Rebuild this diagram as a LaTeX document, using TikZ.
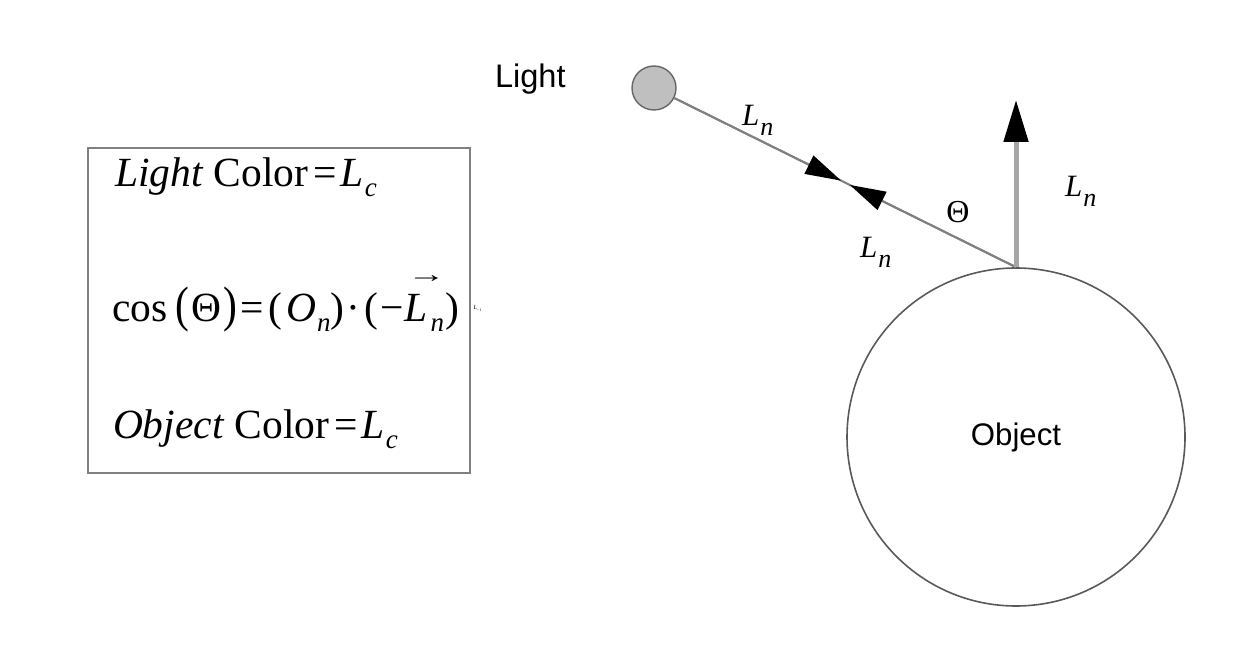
\documentclass[tikz,border=0pt]{standalone}
\usepackage{fontspec}
\setmainfont{Liberation Serif}
\newfontfamily\sansf{Liberation Sans}
\usetikzlibrary{arrows.meta,calc}
\newcommand\fsz[1]{\fontsize{#1}{#1}\selectfont}
\newcommand\tallp[1]{\scalebox{1}[1.2]{#1}}
\newcommand\mysub[1]{\hspace{0.5pt}\raisebox{-5pt}{\fsz{13.5}\textit{#1}}}
\newcommand\arrowL{\makebox[0pt][l]{\raisebox{19.5pt}{\hspace{1.5pt}\fsz{12}\scalebox{1.6}[1]{→}}}\textit{L}}
\tikzset{
  txt/.style={inner sep=0pt, outer sep=0pt},
  formula/.style={txt, anchor=base west, font=\fsz{20.75}},
  lab/.style={txt, anchor=base west, font=\fsz{15.5}},
  sanslab/.style={txt, font=\sansf\fsz{16.3}},
  ray/.style={draw=black!50, line width=1pt},
  normalray/.style={draw=black!35, line width=2.5pt},
  bigtip/.style={-{Triangle[length=18pt,width=10pt,black]}},
}
\begin{document}
\begin{tikzpicture}[x=0.5pt,y=-0.5pt]
\useasboundingbox (0,0) rectangle (1236,646);
% formula frame
\node[draw=black!50, line width=1.4pt, minimum width=191pt, minimum height=162.5pt, inner sep=0pt] (frame) at (279,310.5) {};
\node[formula] (f1) at (115,187) {\textit{Light} Color\hspace{2.5pt}=\hspace{2pt}\textit{L}\mysub{c}};
\node[formula] (f2) at (112,322) {cos\hspace{4pt}\tallp{(}\hspace{1pt}Θ\hspace{1pt}\tallp{)}\hspace{2pt}=\hspace{2pt}(\hspace{2pt}\textit{O}\mysub{n})\hspace{1pt}·\hspace{2pt}(\hspace{1pt}−\hspace{0.5pt}\arrowL\hspace{1pt}\mysub{n}\hspace{0.5pt})};
\node[formula] (f3) at (113,438) {\textit{Object} Color\hspace{2.5pt}=\hspace{2pt}\textit{L}\mysub{c}};
\node[txt, font=\fsz{3}] (tiny) at (478,309) {\textit{L}\textsubscript{−1}};
% light source and object
\node[circle, draw=black!60, fill=black!25, line width=0.7pt, minimum size=22pt, inner sep=0pt] (light) at (654,88) {};
\node[sanslab, anchor=base west] (lightlab) at (495,88) {Light};
\node[circle, draw=black!65, line width=0.8pt, minimum size=169pt, inner sep=0pt, font=\sansf\fsz{15.6}] (obj) at (1016,437) {Object};
\coordinate (top) at (1016,100);
% rays
\draw[ray] (light) -- (obj.north);
\coordinate (t1) at ($(light.center)!0.517!(obj.north)$);
\coordinate (t2) at ($(light.center)!0.541!(obj.north)$);
\draw[ray, bigtip] (light) -- (t1);
\draw[ray, bigtip] (obj.north) -- (t2);
\draw[normalray, -{Triangle[length=21pt,width=12pt,black]}] (obj.north) -- (top);
% labels
\node[lab] (ln1) at (742,126) {\textit{L}\hspace{0.5pt}\raisebox{-5pt}{\fsz{13}\textit{n}}};
\node[lab] (ln2) at (860,258) {\textit{L}\hspace{0.5pt}\raisebox{-5pt}{\fsz{13}\textit{n}}};
\node[lab] (ln3) at (1065,197) {\textit{L}\hspace{0.5pt}\raisebox{-5pt}{\fsz{13}\textit{n}}};
\node[txt, font=\fsz{16}] (theta) at (958,212) {Θ};
\end{tikzpicture}
\end{document}
